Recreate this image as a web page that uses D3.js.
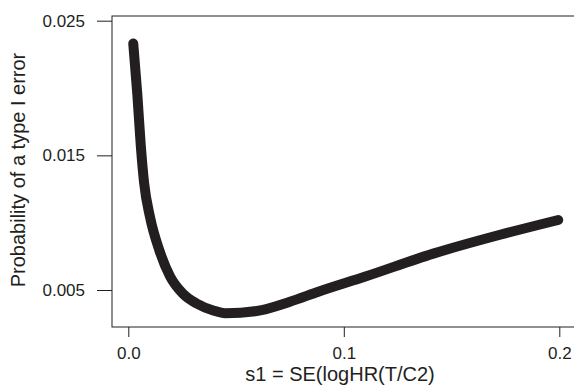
<!DOCTYPE html>
<html>
<head>
<meta charset="utf-8">
<script src="https://cdn.jsdelivr.net/npm/d3@7"></script>
<style>
  body { margin: 0; background: #fff; }
  text { font-family: "Liberation Sans", Arial, sans-serif; fill: #231f20; }
</style>
</head>
<body>
<svg id="chart"></svg>
<script>
// values
const s1 = [0.0023, 0.0042, 0.0058, 0.0073, 0.0101, 0.0143, 0.0194, 0.0255, 0.0317, 0.0394,
    0.045, 0.0596, 0.075, 0.0882, 0.11, 0.1415, 0.1725, 0.1995];
const typeIError = [0.0233, 0.0195, 0.0157, 0.0130, 0.0104, 0.0080, 0.0060, 0.0047, 0.0040, 0.00348,
    0.00327, 0.00344, 0.00413, 0.00487, 0.0060, 0.0077, 0.0091, 0.0102];
const xTicks = [0, 0.1, 0.2];
const xTickLabels = ['0.0', '0.1', '0.2'];
const yTicks = [0.005, 0.015, 0.025];
const yTickLabels = ['0.005', '0.015', '0.025'];

const ink = '#231f20';
const width = 574, height = 386;
const box = { left: 112, top: 16, right: 580, bottom: 327 };

const svg = d3.select('#chart')
    .attr('width', width)
    .attr('height', height);

const xScale = d3.scaleLinear()
    .domain([0, 0.2])
    .range([128.3, 559.3]);

const yScale = d3.scaleLinear()
    .domain([0.005, 0.025])
    .range([290, 20.7]);

// plot frame
svg.append('rect')
    .attr('x', box.left)
    .attr('y', box.top)
    .attr('width', box.right - box.left)
    .attr('height', box.bottom - box.top)
    .attr('fill', 'none')
    .attr('stroke', ink)
    .attr('stroke-width', 1);

// y axis
const yAxis = d3.axisLeft(yScale)
    .tickValues(yTicks)
    .tickFormat((d, i) => yTickLabels[i])
    .tickSize(15)
    .tickPadding(12);

svg.append('g')
    .attr('transform', `translate(${box.left}, 0)`)
    .call(yAxis)
    .call(g => g.select('.domain').remove())
    .call(g => g.selectAll('line').attr('stroke', ink))
    .call(g => g.selectAll('text')
        .attr('font-size', 17)
        .attr('fill', ink)
        .style('font-family', '"Liberation Sans", Arial, sans-serif'));

// x axis
const xAxis = d3.axisBottom(xScale)
    .tickValues(xTicks)
    .tickFormat((d, i) => xTickLabels[i])
    .tickSize(10)
    .tickPadding(10);

svg.append('g')
    .attr('transform', `translate(0, ${box.bottom})`)
    .call(xAxis)
    .call(g => g.select('.domain').remove())
    .call(g => g.selectAll('line').attr('stroke', ink))
    .call(g => g.selectAll('text')
        .attr('font-size', 17)
        .attr('fill', ink)
        .style('font-family', '"Liberation Sans", Arial, sans-serif'));

// axis titles
svg.append('text')
    .attr('x', 340)
    .attr('y', 381)
    .attr('text-anchor', 'middle')
    .attr('font-size', 20)
    .text('s1 = SE(logHR(T/C2)');

svg.append('text')
    .attr('transform', 'rotate(-90)')
    .attr('x', -170)
    .attr('y', 25)
    .attr('text-anchor', 'middle')
    .attr('font-size', 20)
    .text('Probability of a type I error');

// the curve
const line = d3.line()
    .x(d => xScale(d[0]))
    .y(d => yScale(d[1]))
    .curve(d3.curveMonotoneX);

svg.append('path')
    .datum(s1.map((x, i) => [x, typeIError[i]]))
    .attr('d', line)
    .attr('fill', 'none')
    .attr('stroke', ink)
    .attr('stroke-width', 10)
    .attr('stroke-linecap', 'round')
    .attr('stroke-linejoin', 'round');
</script>
</body>
</html>
